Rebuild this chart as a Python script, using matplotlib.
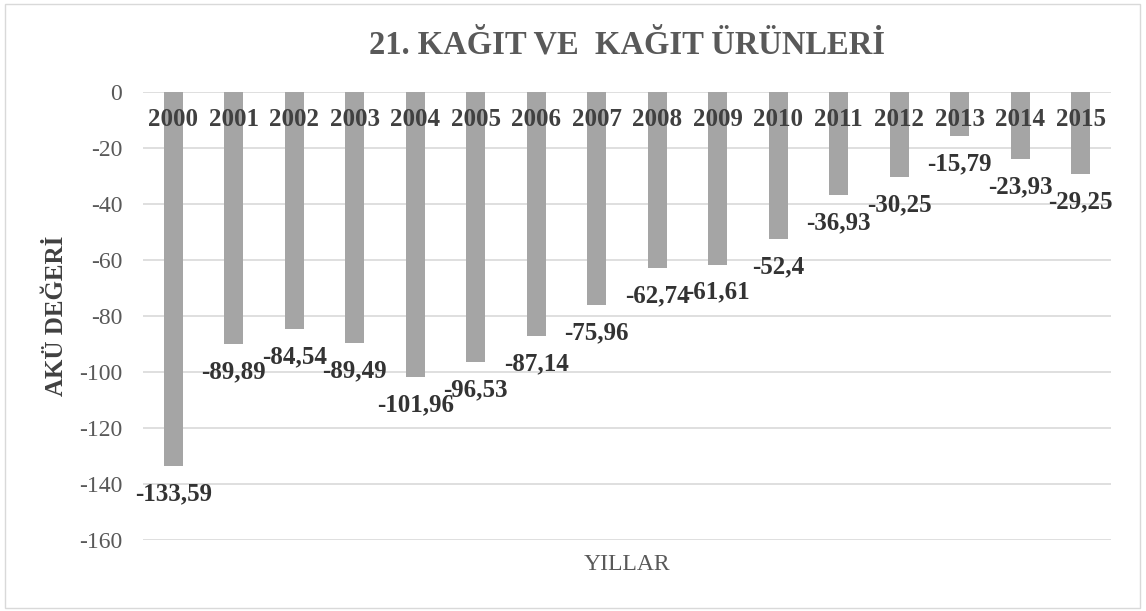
import matplotlib.pyplot as plt
from matplotlib.patches import Rectangle

years = ['2000', '2001', '2002', '2003', '2004', '2005', '2006', '2007',
         '2008', '2009', '2010', '2011', '2012', '2013', '2014', '2015']
values = [-133.59, -89.89, -84.54, -89.49, -101.96, -96.53, -87.14, -75.96,
          -62.74, -61.61, -52.4, -36.93, -30.25, -15.79, -23.93, -29.25]
yticks = [0, -20, -40, -60, -80, -100, -120, -140, -160]

plt.rcParams['font.family'] = ['Liberation Serif', 'DejaVu Serif']

fig = plt.figure(figsize=(11.46, 6.11), dpi=100)
ax = fig.add_axes([143 / 1146, 1 - 540 / 611, 968 / 1146, 448 / 611])

x = range(len(years))
ax.bar(x, values, width=0.32, color='#A5A5A5', zorder=2)

# year labels sit at the top, over the bars
for i, yr in enumerate(years):
    ax.text(i, -10, yr, ha='center', va='center', fontsize=18,
            fontweight='bold', color='#404040', zorder=3)

# value labels under each bar
for i, v in enumerate(values):
    ax.annotate(f'{v:g}'.replace('.', ','), (i, v), xytext=(0, -20),
                textcoords='offset points', ha='center', va='center',
                fontsize=18, fontweight='bold', color='#333333', zorder=3)

ax.set_xlim(-0.5, len(years) - 0.5)
ax.set_ylim(-160, 0)
ax.set_yticks(yticks)
ax.set_yticklabels([str(t) for t in yticks], fontsize=17, color='#595959')
ax.set_xticks([])
ax.tick_params(axis='y', length=0, pad=15)
ax.grid(axis='y', color='#D9D9D9', linewidth=1.2, zorder=0)
for s in ax.spines.values():
    s.set_visible(False)

ax.set_ylabel('AKÜ DEĞERİ', fontsize=18, fontweight='bold', color='#404040',
              labelpad=8)
fig.text(627 / 1146, 1 - 565 / 611, 'YILLAR', ha='center', va='center',
         fontsize=17, color='#595959')
fig.text(627 / 1146, 1 - 45 / 611, '21. KAĞIT VE  KAĞIT ÜRÜNLERİ',
         ha='center', va='center', fontsize=23.5, fontweight='bold',
         color='#595959')

fig.patches.append(Rectangle((5 / 1146, 3 / 611), 1135 / 1146, 604 / 611,
                             transform=fig.transFigure, fill=False,
                             edgecolor='#D9D9D9', linewidth=1))

fig.savefig('out.png', dpi=100)
